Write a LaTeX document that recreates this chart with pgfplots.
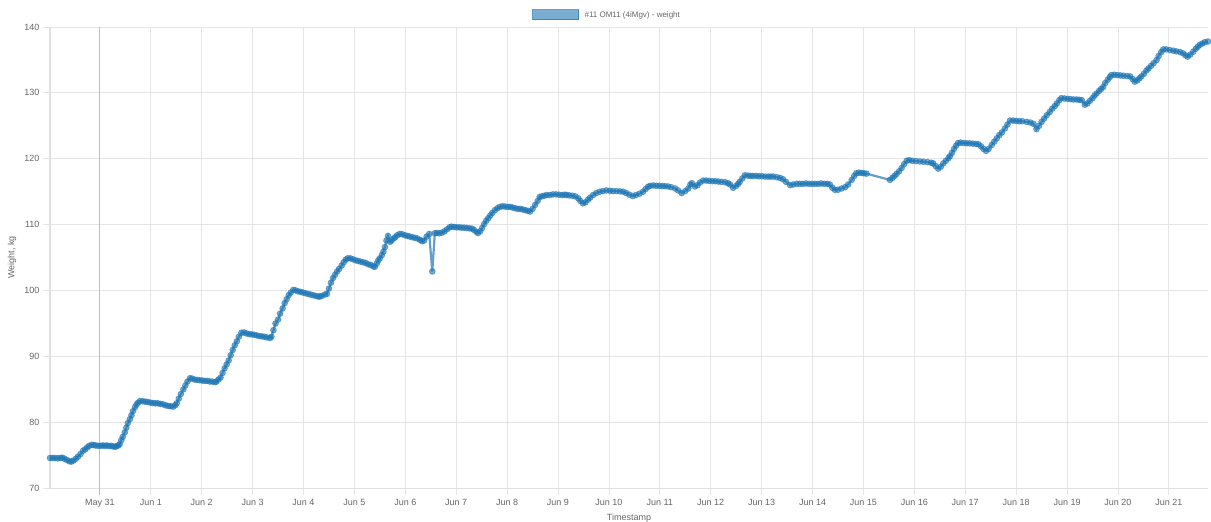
\documentclass[border=0pt]{standalone}
\usepackage{pgfplots}
\usepackage{pgfplotstable}
\pgfplotsset{compat=1.18}
\usepackage{fontspec}
\setmainfont{Liberation Sans}
\definecolor{c1}{RGB}{31,119,180}
\definecolor{txt}{RGB}{102,102,102}
\pgfplotstableread{
d w
-0.98 74.6
-0.93 74.6
-0.88 74.6
-0.83 74.55
-0.78 74.6
-0.74 74.65
-0.70 74.5
-0.65 74.3
-0.60 74.1
-0.56 74.05
-0.52 74.2
-0.47 74.5
-0.43 74.8
-0.38 75.2
-0.33 75.7
-0.29 75.9
-0.25 76.2
-0.21 76.45
-0.16 76.6
-0.12 76.55
-0.08 76.5
-0.03 76.45
0.02 76.45
0.06 76.5
0.10 76.45
0.14 76.5
0.18 76.4
0.22 76.45
0.26 76.35
0.30 76.3
0.33 76.4
0.36 76.5
0.39 76.7
0.42 77.3
0.45 77.8
0.49 78.5
0.52 79.2
0.55 79.9
0.59 80.5
0.62 81.1
0.65 81.7
0.69 82.3
0.72 82.7
0.75 83.0
0.79 83.25
0.84 83.2
0.89 83.15
0.94 83.1
0.99 83.0
1.04 82.95
1.09 82.9
1.14 82.9
1.19 82.8
1.24 82.75
1.29 82.6
1.34 82.5
1.39 82.45
1.44 82.4
1.48 82.6
1.51 82.9
1.55 83.6
1.59 84.3
1.64 85.0
1.68 85.6
1.72 86.2
1.77 86.7
1.81 86.65
1.86 86.5
1.91 86.45
1.96 86.4
2.01 86.35
2.06 86.3
2.11 86.3
2.16 86.2
2.21 86.2
2.26 86.1
2.29 86.2
2.33 86.5
2.37 86.8
2.41 87.5
2.45 88.2
2.49 88.8
2.53 89.4
2.57 90.2
2.61 91.0
2.65 91.7
2.69 92.3
2.73 93.0
2.78 93.6
2.83 93.65
2.88 93.5
2.93 93.4
2.98 93.35
3.03 93.3
3.08 93.2
3.13 93.1
3.18 93.05
3.23 93.0
3.28 92.9
3.34 92.8
3.37 93.0
3.41 94.0
3.45 95.0
3.50 95.6
3.54 96.5
3.59 97.3
3.63 98.1
3.67 98.7
3.71 99.3
3.75 99.7
3.80 100.1
3.84 100.05
3.89 99.9
3.94 99.8
3.99 99.7
4.04 99.6
4.09 99.5
4.14 99.4
4.19 99.3
4.24 99.2
4.29 99.1
4.32 99.1
4.36 99.2
4.42 99.4
4.46 99.5
4.50 100.3
4.54 101.2
4.58 101.9
4.62 102.4
4.66 102.9
4.70 103.3
4.75 103.8
4.79 104.3
4.83 104.7
4.87 104.9
4.92 104.9
4.97 104.75
5.02 104.6
5.07 104.5
5.12 104.4
5.17 104.3
5.22 104.2
5.27 104.0
5.32 103.9
5.37 103.7
5.40 103.6
5.44 104.1
5.47 104.6
5.50 104.9
5.54 105.4
5.57 105.9
5.60 106.6
5.63 107.6
5.66 108.3
5.70 107.4
5.73 107.6
5.77 107.9
5.80 108.1
5.84 108.4
5.89 108.6
5.94 108.55
5.99 108.4
6.04 108.3
6.09 108.2
6.14 108.1
6.19 108.0
6.24 107.9
6.29 107.7
6.33 107.5
6.37 107.6
6.42 108.2
6.47 108.6
6.53 102.9
6.58 108.7
6.62 108.75
6.67 108.7
6.72 108.8
6.77 109.0
6.82 109.3
6.87 109.6
6.91 109.7
6.96 109.65
7.01 109.6
7.06 109.6
7.11 109.55
7.16 109.55
7.21 109.5
7.26 109.45
7.31 109.4
7.35 109.2
7.40 108.9
7.43 108.75
7.47 109.0
7.51 109.5
7.55 110.1
7.59 110.6
7.63 111.0
7.67 111.4
7.71 111.8
7.76 112.2
7.81 112.5
7.86 112.7
7.91 112.8
7.96 112.75
8.01 112.7
8.06 112.7
8.11 112.6
8.16 112.5
8.21 112.4
8.26 112.4
8.31 112.3
8.36 112.2
8.41 112.1
8.45 112.0
8.50 112.4
8.55 113.0
8.60 113.6
8.64 114.2
8.68 114.3
8.73 114.4
8.78 114.5
8.84 114.5
8.90 114.6
8.96 114.6
9.02 114.55
9.08 114.5
9.13 114.55
9.17 114.5
9.22 114.45
9.28 114.4
9.34 114.3
9.40 114.0
9.44 113.6
9.49 113.25
9.54 113.4
9.59 113.8
9.63 114.1
9.69 114.5
9.75 114.8
9.82 115.0
9.88 115.1
9.95 115.2
10.02 115.15
10.08 115.1
10.15 115.1
10.22 115.05
10.28 115.0
10.34 114.8
10.40 114.55
10.47 114.35
10.53 114.5
10.60 114.7
10.67 115.0
10.72 115.4
10.77 115.75
10.81 115.9
10.87 115.95
10.93 115.9
10.99 115.9
11.05 115.85
11.10 115.85
11.16 115.8
11.22 115.7
11.30 115.5
11.36 115.2
11.43 114.8
11.50 115.1
11.56 115.5
11.60 116.1
11.63 116.3
11.69 115.8
11.74 116.0
11.79 116.4
11.85 116.7
11.91 116.7
11.97 116.65
12.03 116.6
12.09 116.6
12.15 116.55
12.21 116.5
12.28 116.45
12.34 116.3
12.38 116.1
12.44 115.6
12.50 115.9
12.54 116.2
12.57 116.5
12.62 117.0
12.67 117.5
12.73 117.45
12.78 117.4
12.83 117.4
12.89 117.4
12.95 117.35
13.01 117.35
13.07 117.3
13.13 117.3
13.18 117.3
13.23 117.3
13.30 117.2
13.36 117.1
13.42 116.9
13.48 116.5
13.56 116.0
13.62 116.1
13.69 116.2
13.75 116.2
13.81 116.2
13.87 116.25
13.93 116.2
13.99 116.2
14.05 116.2
14.11 116.2
14.17 116.25
14.23 116.2
14.29 116.2
14.34 116.1
14.39 115.6
14.44 115.3
14.50 115.3
14.57 115.5
14.64 115.7
14.70 116.1
14.77 116.8
14.82 117.4
14.86 117.8
14.91 117.9
14.96 117.85
15.01 117.8
15.06 117.75
15.52 116.8
15.57 117.1
15.61 117.4
15.65 117.7
15.70 118.1
15.75 118.6
15.80 119.2
15.85 119.7
15.90 119.8
15.96 119.7
16.03 119.65
16.11 119.6
16.18 119.55
16.26 119.5
16.33 119.4
16.37 119.3
16.42 118.9
16.47 118.5
16.52 118.8
16.57 119.3
16.62 119.7
16.67 120.1
16.70 120.4
16.74 120.9
16.78 121.5
16.82 122.0
16.86 122.4
16.91 122.45
16.97 122.4
17.03 122.35
17.09 122.35
17.15 122.3
17.21 122.25
17.26 122.2
17.31 121.9
17.36 121.5
17.41 121.2
17.46 121.5
17.52 122.1
17.57 122.6
17.62 123.1
17.67 123.6
17.72 124.0
17.78 124.6
17.83 125.2
17.88 125.8
17.94 125.8
18.00 125.75
18.06 125.7
18.12 125.7
18.21 125.6
18.28 125.5
18.34 125.3
18.40 124.5
18.45 125.0
18.50 125.6
18.55 126.1
18.60 126.6
18.66 127.1
18.71 127.6
18.76 128.0
18.80 128.4
18.85 128.9
18.89 129.2
18.95 129.15
19.01 129.1
19.07 129.05
19.13 129.0
19.19 129.0
19.24 128.95
19.29 128.9
19.35 128.2
19.40 128.4
19.45 128.8
19.50 129.2
19.54 129.6
19.58 129.9
19.63 130.3
19.67 130.6
19.71 130.9
19.75 131.5
19.80 132.0
19.84 132.4
19.87 132.7
19.93 132.75
19.99 132.7
20.05 132.65
20.11 132.6
20.18 132.55
20.24 132.5
20.29 132.1
20.33 131.7
20.38 131.9
20.42 132.2
20.46 132.5
20.51 132.9
20.56 133.4
20.60 133.7
20.65 134.1
20.70 134.5
20.76 135.0
20.80 135.6
20.85 136.2
20.89 136.6
20.95 136.6
21.02 136.5
21.09 136.4
21.15 136.3
21.22 136.2
21.28 136.0
21.33 135.7
21.37 135.5
21.42 135.8
21.48 136.25
21.53 136.7
21.57 137.0
21.61 137.3
21.66 137.5
21.71 137.7
21.77 137.8
}\weight
\begin{document}
\begin{tikzpicture}
\useasboundingbox (0,0) rectangle (1211pt,522pt);
\begin{axis}[
  at={(50pt,33.7pt)}, anchor=south west,
  scale only axis, width=1158pt, height=461.3pt,
  xmin=-0.98, xmax=21.77, ymin=70, ymax=140,
  clip=false,
  axis x line*=bottom, axis y line*=left,
  axis line style={draw=black!12, line width=1.2pt},
  xtick={0,...,21},
  xticklabels={May 31,Jun 1,Jun 2,Jun 3,Jun 4,Jun 5,Jun 6,Jun 7,Jun 8,Jun 9,Jun 10,Jun 11,Jun 12,Jun 13,Jun 14,Jun 15,Jun 16,Jun 17,Jun 18,Jun 19,Jun 20,Jun 21},
  ytick={70,80,...,140},
  extra x ticks={0}, extra x tick labels={},
  extra x tick style={grid style={draw=black!25, line width=0.8pt}, major tick style={draw=black!25}},
  grid=major,
  grid style={draw=black!10, line width=0.8pt},
  tick align=outside, major tick length=7pt,
  tick style={draw=black!10, line width=0.8pt},
  /pgf/number format/assume math mode=true,
  tick label style={font=\fontsize{9}{10}\selectfont, text=txt},
  xlabel={Timestamp}, ylabel={Weight, kg},
  label style={font=\fontsize{9}{10}\selectfont, text=txt},
  xlabel style={at={(axis description cs:0.5,0)}, anchor=center, yshift=-30pt},
  ylabel style={at={(axis description cs:0,0.5)}, anchor=center, yshift=38pt},
  legend style={at={(axis description cs:0.5,1)}, anchor=center, xshift=-22pt, yshift=12pt,
    draw=none, fill=none, font=\fontsize{8}{9}\selectfont, text=txt},
  legend image code/.code={\path[draw=none, fill=none] (0pt,0pt) -- (50pt,0pt); \draw[fill=c1, fill opacity=0.6, draw=c1, line width=1pt] (0pt,-5pt) rectangle (46pt,5pt);},
]
\addplot[draw=c1, draw opacity=0.7, line width=2.2pt, mark=*, mark size=2.9pt,
  mark options={fill=c1, fill opacity=0.6, draw=c1, draw opacity=0.6, line width=0.8pt}]
  table[x=d, y=w] {\weight};
\addlegendentry{\#11 OM11 (4iMgv) - weight}
\end{axis}
\end{tikzpicture}
\end{document}
